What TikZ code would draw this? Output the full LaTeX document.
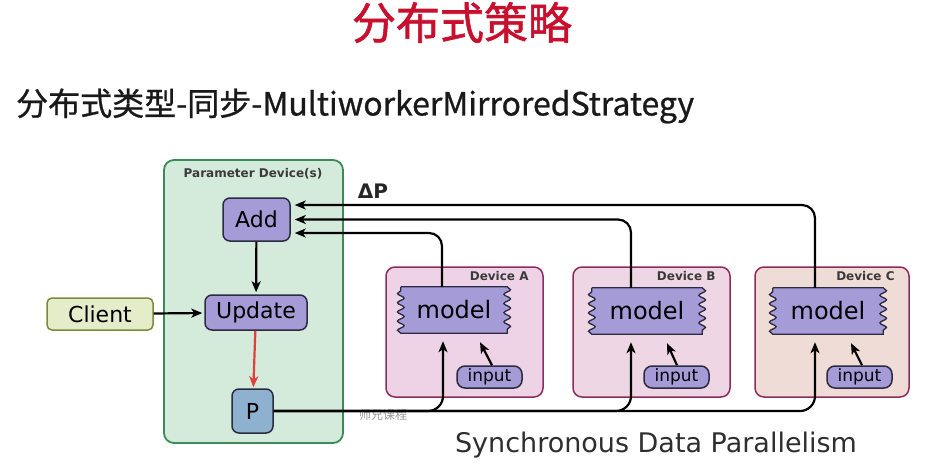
\documentclass[tikz,border=0pt]{standalone}
\usepackage{fontspec}
\newfontfamily\dv{DejaVu Sans}
\newfontfamily\cjk{Noto Sans CJK SC}
\newfontfamily\cjkfb[FakeBold=0.8]{Noto Sans CJK SC}
\newfontfamily\cjktb[FakeBold=1.3]{Noto Sans CJK SC}
\usetikzlibrary{arrows.meta,calc,decorations.pathmorphing}
\definecolor{titlered}{HTML}{C8102E}
\definecolor{pgreen}{HTML}{D4EADB}
\definecolor{pgreenline}{HTML}{3C8A5A}
\definecolor{purp}{HTML}{A59BD6}
\definecolor{pblue}{HTML}{8DB1CF}
\definecolor{dk}{HTML}{2A2A40}
\definecolor{clientfill}{HTML}{E4ECC9}
\definecolor{clientline}{HTML}{7C8A3C}
\definecolor{devfillA}{HTML}{EED3E6}
\definecolor{devfillB}{HTML}{EFD6E4}
\definecolor{devfillC}{HTML}{EFDCD6}
\definecolor{devline}{HTML}{8E2B5E}
\definecolor{labgrey}{HTML}{3A3A3A}
\definecolor{arrred}{HTML}{E0403A}
\pgfdeclarelayer{bg}\pgfdeclarelayer{mid}\pgfsetlayers{bg,mid,main}
\tikzset{
  pnode/.style={draw=dk, line width=1.5pt, rounded corners=7pt, inner sep=0pt, fill=purp,
    font=\dv\fontsize{22}{22}\selectfont},
  inbox/.style={draw=dk, line width=1.5pt, rounded corners=8pt, inner sep=0pt, fill=purp,
    minimum width=65pt, minimum height=22pt, font=\dv\fontsize{17}{17}\selectfont},
  modelnode/.style={inner sep=0pt, minimum height=46pt, font=\dv\fontsize{24}{24}\selectfont},
  devbox/.style={draw=devline, line width=1.5pt, rounded corners=9pt, minimum width=157pt, minimum height=130pt},
  devlab/.style={anchor=north east, inner sep=0pt, text=labgrey, font=\dv\bfseries\fontsize{12}{12}\selectfont},
  arr/.style={draw=black, line width=2.2pt, -{Stealth[length=11pt,width=9pt,inset=3pt]}},
  wavy/.style={fill=purp, draw=dk, line width=1.3pt, decoration={snake,segment length=9.2pt,amplitude=3.3pt}}
}
\begin{document}
\begin{tikzpicture}[x=1pt,y=-1pt]
\useasboundingbox (0,0) rectangle (943,475);
% titles
\node[text=titlered, font=\cjktb\fontsize{44}{44}\selectfont] (title) at (462,22.5) {分布式策略};
\node[anchor=west, inner sep=0pt, text=black!90, font=\cjkfb\fontsize{32}{32}\selectfont] (sub) at (16,106) {分布式类型-同步-MultiworkerMirroredStrategy};
% parameter device
\begin{pgfonlayer}{bg}
\node[draw=pgreenline, fill=pgreen, line width=1.8pt, rounded corners=10pt, minimum width=179pt, minimum height=283pt] (pbox) at (253.5,301.5) {};
\node[devbox, fill=devfillA] (dA) at (464.5,332) {};
\node[devbox, fill=devfillB] (dB) at (651.5,332) {};
\node[devbox, fill=devfillC, minimum width=154pt] (dC) at (832,332) {};
\end{pgfonlayer}
\node[text=labgrey, inner sep=0pt, font=\dv\bfseries\fontsize{12}{12}\selectfont] (plab) at (253,174) {Parameter Device(s)};
\node[pnode, minimum width=67pt, minimum height=43pt] (add) at (256.5,219.5) {Add};
\node[pnode, minimum width=102pt, minimum height=35pt] (upd) at (256,312.5) {Update};
\node[pnode, fill=pblue, minimum width=41pt, minimum height=44pt] (P) at (252.5,411) {P};
\node[draw=clientline, fill=clientfill, line width=1.5pt, rounded corners=5pt, inner sep=0pt, minimum width=106pt, minimum height=32pt, font=\dv\fontsize{22}{22}\selectfont] (client) at (100,314) {Client};
% devices
\node[devlab] (labA) at ($(dA.north east)+(-15,5)$) {Device A};
\node[devlab] (labB) at ($(dB.north east)+(-15,5)$) {Device B};
\node[devlab] (labC) at ($(dC.north east)+(-15,5)$) {Device C};
\node[modelnode, minimum width=106pt] (mA) at (454,310) {model};
\node[modelnode, minimum width=110pt] (mB) at (647,311) {model};
\node[modelnode, minimum width=110pt] (mC) at (828,311) {model};
\begin{pgfonlayer}{mid}
\foreach \m in {mA,mB,mC}{
  \draw[wavy] (\m.north west) -- (\m.north east) decorate{-- (\m.south east)} -- (\m.south west) decorate{-- (\m.north west)} -- cycle;
}
\end{pgfonlayer}
\node[inbox] (iA) at (489.5,377) {input};
\node[inbox] (iB) at (676.5,377) {input};
\node[inbox] (iC) at (859.5,377) {input};
% labels
\node[font=\dv\bfseries\fontsize{20}{20}\selectfont, text=black!85] (dP) at (373,191) {ΔP};
\node[text=black!82, font=\dv\fontsize{27}{27}\selectfont] (cap) at (656,445) {Synchronous Data Parallelism};
\node[text=gray!80, font=\cjk\fontsize{12}{12}\selectfont] (wm) at (383,415) {师兄课程};
% connectors inside parameter device
\draw[arr, shorten >=2pt] (add) -- (upd);
\draw[arr, draw=arrred, shorten >=1pt] (upd) -- (P);
\draw[arr, shorten >=2pt] (client) -- (upd);
% gradients back to Add
\draw[arr, rounded corners=13pt, shorten >=4pt] ($(mC.north)+(-13,0)$) |- ($(add.east)+(0,-14.5)$);
\draw[arr, rounded corners=13pt, shorten >=4pt] ($(mB.north)+(-16,0)$) |- ($(add.east)+(0,0)$);
\draw[arr, rounded corners=13pt, shorten >=4pt] ($(mA.north)+(-12,0)$) |- ($(add.east)+(0,13.5)$);
% parameters out to models
\draw[arr, rounded corners=15pt, shorten >=8pt] (P.east) -| ($(mA.south)+(-11,0)$);
\draw[arr, rounded corners=15pt, shorten >=8pt] (P.east) -| ($(mB.south)+(-16,0)$);
\draw[arr, rounded corners=15pt, shorten >=8pt] (P.east) -| ($(mC.south)+(-13,0)$);
% input to model
\draw[arr] ($(iA.north)+(2.5,0)$) -- ($(mA.south)+(26,9)$);
\draw[arr] ($(iB.north)+(0.5,0)$) -- ($(mB.south)+(20,9)$);
\draw[arr] ($(iC.north)+(2.5,0)$) -- ($(mC.south)+(23,9)$);
\end{tikzpicture}
\end{document}
